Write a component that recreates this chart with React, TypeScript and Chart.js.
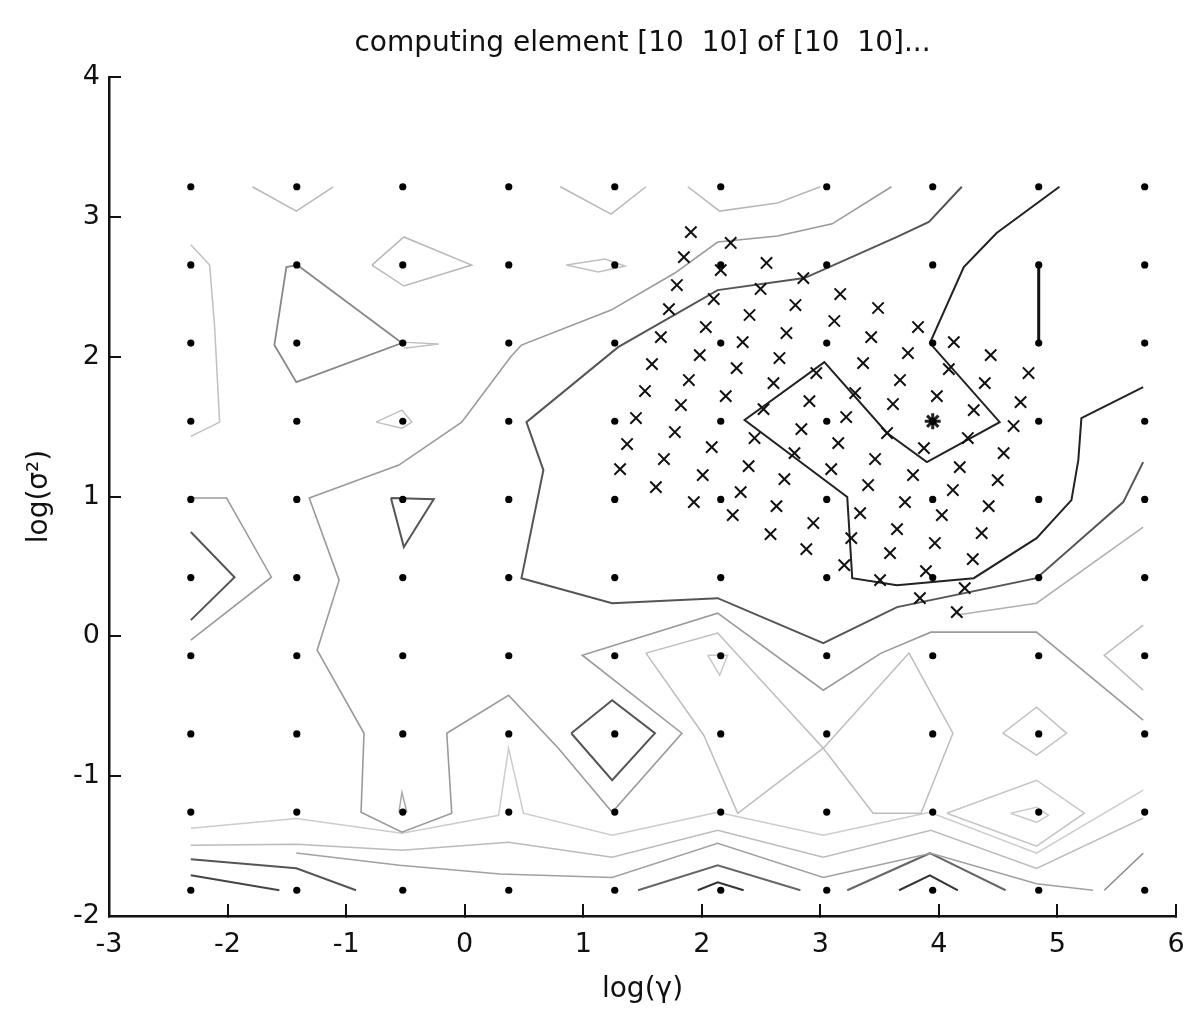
import React, { useEffect, useRef } from "react";
import { Chart, registerables } from "chart.js";

Chart.register(...registerables);

// ---- grid of the first tuning stage (log gamma x log sigma^2) ----
const gammaGrid = [-2.31, -1.416, -0.522, 0.372, 1.266, 2.16, 3.054, 3.948, 4.842, 5.736];
const sigmaGrid = [-1.816, -1.257, -0.698, -0.139, 0.42, 0.979, 1.538, 2.097, 2.656, 3.215];

// ---- points of the refined stage (x markers) ----
const refineGamma = [1.908, 2.244, 1.849, 2.546, 2.16, 1.79, 2.857, 2.496, 3.168, 1.723, 2.101, 2.79, 3.487, 2.403, 2.034, 3.118, 3.824, 1.655, 2.345, 2.714, 3.429, 4.126, 3.739, 4.437, 1.983, 2.655, 1.58, 2.294, 3.361, 2.966, 4.084, 4.756, 1.891, 2.605, 3.672, 4.387, 1.521, 2.202, 3.294, 3.983, 4.689, 1.824, 2.521, 2.908, 3.613, 4.294, 1.445, 3.218, 4.63, 1.773, 2.445, 2.84, 3.563, 4.244, 1.37, 2.084, 3.151, 3.874, 4.546, 1.681, 2.782, 1.311, 2.395, 3.092, 3.462, 4.176, 2.008, 2.697, 3.782, 4.496, 1.613, 3.403, 2.328, 4.118, 1.933, 2.63, 3.714, 4.42, 3.336, 2.261, 4.025, 2.941, 3.647, 2.58, 4.361, 3.261, 3.966, 2.882, 3.588, 4.286, 3.202, 3.891, 3.504, 4.218, 3.84, 4.151];
const refineSigma = [2.891, 2.813, 2.712, 2.67, 2.619, 2.512, 2.562, 2.484, 2.448, 2.34, 2.412, 2.369, 2.348, 2.298, 2.212, 2.255, 2.212, 2.14, 2.104, 2.169, 2.14, 2.104, 2.026, 2.011, 2.011, 1.99, 1.947, 1.918, 1.954, 1.883, 1.911, 1.883, 1.833, 1.811, 1.833, 1.811, 1.754, 1.718, 1.74, 1.718, 1.675, 1.654, 1.625, 1.682, 1.661, 1.618, 1.561, 1.568, 1.504, 1.461, 1.418, 1.482, 1.454, 1.418, 1.375, 1.353, 1.382, 1.346, 1.31, 1.268, 1.31, 1.196, 1.217, 1.196, 1.268, 1.21, 1.153, 1.124, 1.153, 1.117, 1.067, 1.082, 1.031, 1.046, 0.96, 0.931, 0.96, 0.931, 0.881, 0.867, 0.867, 0.81, 0.767, 0.731, 0.738, 0.702, 0.667, 0.624, 0.595, 0.552, 0.509, 0.466, 0.402, 0.345, 0.273, 0.173];

const optimumGamma = [3.948];
const optimumSigma = [1.538];

// ---- contour lines (log gamma, log sigma^2) ----
const cLight1 = [[-1.79, 3.215], [-1.42, 3.041], [-1.109, 3.215]];
const cLight2 = [[0.807, 3.215], [1.235, 3.02], [1.529, 3.215]];
const cLight3 = [[-2.31, 2.8], [-2.151, 2.655], [-2.109, 2.212], [-2.067, 1.532], [-2.31, 1.43]];
const cLight4 = [[-0.782, 2.655], [-0.513, 2.856], [0.059, 2.655], [-0.513, 2.505], [-0.782, 2.655]];
const cLight5 = [[0.857, 2.655], [1.185, 2.698], [1.353, 2.648], [1.126, 2.605], [0.857, 2.655]];
const cLight6 = [[-0.748, 1.532], [-0.529, 1.618], [-0.445, 1.532], [-0.529, 1.489], [-0.748, 1.532]];
const cLight7 = [[-0.529, 2.104], [-0.218, 2.09], [-0.513, 2.06]];
const cLight8 = [[1.882, 3.215], [2.151, 3.041], [2.639, 3.099], [3.0, 3.215]];
const cLight9 = [[4.151, 0.152], [4.824, 0.237], [5.723, 0.781]];
const cLight10 = [[2.05, -0.135], [2.151, -0.278], [2.218, -0.135], [2.05, -0.135]];
const cLight11 = [[1.529, -0.12], [2.134, 0.023], [3.025, -0.8], [2.303, -1.265], [2.017, -0.707], [1.529, -0.12]];
const cLight12 = [[3.025, -0.8], [3.748, -0.12], [4.118, -0.693], [3.849, -1.265], [3.445, -1.265], [3.025, -0.8]];
const cLight13 = [[4.538, -0.693], [4.824, -0.507], [5.076, -0.693], [4.824, -0.85], [4.538, -0.693]];
const cLight14 = [[4.067, -1.265], [4.824, -1.029], [5.227, -1.265], [4.824, -1.5], [4.067, -1.265]];
const cLight15 = [[4.605, -1.265], [4.824, -1.222], [4.924, -1.28], [4.824, -1.33], [4.605, -1.265]];
const cLight16 = [[5.723, 0.08], [5.395, -0.135], [5.723, -0.385]];
const cLight17 = [[-0.555, -1.258], [-0.529, -1.115], [-0.487, -1.258]];

const cMid1 = [[-1.412, 2.655], [-0.529, 2.097], [-1.42, 1.818], [-1.605, 2.083], [-1.504, 2.641], [-1.412, 2.655]];
const cMid2 = [[-2.31, 0.989], [-2.008, 0.989], [-1.63, 0.423], [-2.31, -0.027]];
const cMid3 = [[3.6, 3.215], [3.1, 2.95], [2.639, 2.863], [2.134, 2.82], [1.773, 2.598], [1.235, 2.333], [0.479, 2.083], [0.387, 1.997], [-0.025, 1.532], [-0.555, 1.225], [-1.311, 0.989], [-1.059, 0.402], [-1.244, -0.099], [-0.849, -0.693], [-0.874, -1.258], [-0.529, -1.401], [-0.109, -1.265], [-0.151, -0.693], [0.37, -0.421], [0.79, -0.8], [1.244, -1.258], [1.832, -0.693], [0.992, -0.135], [2.134, 0.166], [3.025, -0.385], [3.513, -0.12], [3.933, 0.03], [4.824, 0.03], [5.723, -0.6]];

const cDark1 = [[-2.31, 0.746], [-1.941, 0.423], [-2.31, 0.116]];
const cDark2 = [[-0.622, 0.989], [-0.261, 0.981], [-0.513, 0.638], [-0.622, 0.989]];
const cDark3 = [[0.899, -0.693], [1.244, -0.457], [1.605, -0.693], [1.244, -1.029], [0.899, -0.693]];
const cDark4 = [[4.193, 3.215], [3.916, 2.963], [3.647, 2.856], [2.866, 2.562], [2.134, 2.476], [1.294, 2.068], [0.521, 1.532], [0.664, 1.189], [0.479, 0.416], [1.244, 0.237], [2.134, 0.273], [3.025, -0.049], [3.647, 0.209], [4.824, 0.416], [5.555, 0.96], [5.723, 1.246]];

const cBlack1 = [[5.017, 3.215], [4.487, 2.884], [4.21, 2.641], [3.924, 2.097], [4.513, 1.532], [3.899, 1.246], [3.563, 1.454], [3.034, 1.961], [2.361, 1.547], [3.227, 0.996], [3.269, 0.416], [3.647, 0.366], [4.294, 0.416], [4.824, 0.702], [5.118, 0.974], [5.176, 1.26], [5.202, 1.561], [5.723, 1.782]];
const cBlack2 = [[4.842, 2.656], [4.842, 2.097]];

const cBand1 = [[-2.31, -1.373], [-1.42, -1.302], [-0.529, -1.408], [0.286, -1.28], [0.37, -0.8], [0.496, -1.265], [1.244, -1.423], [2.134, -1.258], [3.025, -1.423], [3.924, -1.258], [4.824, -1.551], [5.723, -1.1]];
const cBand2 = [[-2.31, -1.494], [-1.42, -1.487], [-0.529, -1.53], [0.37, -1.473], [1.244, -1.58], [2.134, -1.387], [3.025, -1.58], [3.933, -1.387], [4.824, -1.66], [5.723, -1.3]];
const cBand3 = [[-1.42, -1.55], [-0.55, -1.637], [0.3, -1.7], [1.244, -1.724], [2.134, -1.48], [3.025, -1.724], [3.933, -1.551], [4.824, -1.77], [5.3, -1.816]];
const cBand4 = [[-2.31, -1.595], [-1.42, -1.659], [-0.916, -1.816]];
const cBand5 = [[-2.31, -1.709], [-1.563, -1.816]];
const cBand6 = [[1.462, -1.816], [2.134, -1.637], [2.832, -1.816]];
const cBand7 = [[1.966, -1.816], [2.134, -1.759], [2.353, -1.816]];
const cBand8 = [[3.227, -1.816], [3.924, -1.551], [4.563, -1.816]];
const cBand9 = [[3.664, -1.816], [3.924, -1.709], [4.16, -1.816]];
const cBand10 = [[5.395, -1.816], [5.723, -1.551]];

const contourSets = [
  { pts: cLight1, color: "#b8b8b8", w: 1.5 },
  { pts: cLight2, color: "#b8b8b8", w: 1.5 },
  { pts: cLight3, color: "#c0c0c0", w: 1.5 },
  { pts: cLight4, color: "#b8b8b8", w: 1.5 },
  { pts: cLight5, color: "#c0c0c0", w: 1.5 },
  { pts: cLight6, color: "#c0c0c0", w: 1.5 },
  { pts: cLight7, color: "#c0c0c0", w: 1.5 },
  { pts: cLight8, color: "#b8b8b8", w: 1.5 },
  { pts: cLight9, color: "#b0b0b0", w: 1.5 },
  { pts: cLight10, color: "#c8c8c8", w: 1.5 },
  { pts: cLight11, color: "#bdbdbd", w: 1.5 },
  { pts: cLight12, color: "#bdbdbd", w: 1.5 },
  { pts: cLight13, color: "#c0c0c0", w: 1.5 },
  { pts: cLight14, color: "#c4c4c4", w: 1.5 },
  { pts: cLight15, color: "#cccccc", w: 1.5 },
  { pts: cLight16, color: "#bbbbbb", w: 1.5 },
  { pts: cLight17, color: "#aaaaaa", w: 1.5 },
  { pts: cMid1, color: "#888888", w: 1.8 },
  { pts: cMid2, color: "#999999", w: 1.5 },
  { pts: cMid3, color: "#9a9a9a", w: 1.6 },
  { pts: cDark1, color: "#555555", w: 2 },
  { pts: cDark2, color: "#555555", w: 2 },
  { pts: cDark3, color: "#555555", w: 2 },
  { pts: cDark4, color: "#555555", w: 2 },
  { pts: cBlack1, color: "#222222", w: 2 },
  { pts: cBlack2, color: "#111111", w: 3 },
  { pts: cBand1, color: "#cccccc", w: 1.5 },
  { pts: cBand2, color: "#bbbbbb", w: 1.5 },
  { pts: cBand3, color: "#a0a0a0", w: 1.5 },
  { pts: cBand4, color: "#555555", w: 2 },
  { pts: cBand5, color: "#444444", w: 2 },
  { pts: cBand6, color: "#666666", w: 2 },
  { pts: cBand7, color: "#333333", w: 2 },
  { pts: cBand8, color: "#666666", w: 2 },
  { pts: cBand9, color: "#333333", w: 2 },
  { pts: cBand10, color: "#888888", w: 1.5 },
];

const xTicks = [-3, -2, -1, 0, 1, 2, 3, 4, 5, 6];
const yTicks = [-2, -1, 0, 1, 2, 3, 4];

const FONT = "'DejaVu Sans', sans-serif";

export default function App() {
  const ref = useRef<HTMLCanvasElement | null>(null);
  useEffect(() => {
    if (!ref.current) return;
    const gridPts: { x: number; y: number }[] = [];
    sigmaGrid.forEach((s) => gammaGrid.forEach((g) => gridPts.push({ x: g, y: s })));
    const refinePts = refineGamma.map((g, i) => ({ x: g, y: refineSigma[i] }));
    const optPts = optimumGamma.map((g, i) => ({ x: g, y: optimumSigma[i] }));

    const datasets: any[] = [
      {
        label: "grid",
        data: gridPts,
        pointRadius: 3.6,
        pointBackgroundColor: "#000",
        pointBorderWidth: 0,
        showLine: false,
        order: 0,
      },
      {
        label: "refined",
        data: refinePts,
        pointStyle: "crossRot",
        pointRadius: 8,
        pointBorderColor: "#111",
        pointBorderWidth: 2,
        showLine: false,
        order: 0,
      },
      {
        label: "optimum",
        data: optPts,
        pointStyle: "star",
        pointRadius: 8,
        pointBorderColor: "#222",
        pointBorderWidth: 3,
        showLine: false,
        order: 0,
      },
      ...contourSets.map((c, i) => ({
        label: "contour" + i,
        data: c.pts.map(([x, y]) => ({ x, y })),
        showLine: true,
        borderColor: c.color,
        borderWidth: c.w,
        pointRadius: 0,
        fill: false,
        tension: 0,
        order: 1,
      })),
    ];

    const chart = new Chart(ref.current, {
      type: "scatter",
      data: { datasets },
      options: {
        animation: false,
        responsive: false,
        layout: { padding: { left: 0, right: 7, top: 0, bottom: 0 } },
        plugins: {
          legend: { display: false },
          tooltip: { enabled: false },
          title: {
            display: true,
            text: "computing element [10  10] of [10  10]...",
            fullSize: false,
            color: "#111",
            font: { family: FONT, size: 28, weight: "normal" },
            padding: { top: 27, bottom: 16.4 },
          },
        },
        scales: {
          x: {
            type: "linear",
            min: -3,
            max: 6,
            afterFit: (s: any) => { s.height = 93; },
            afterBuildTicks: (s: any) => { s.ticks = xTicks.map((v) => ({ value: v })); },
            ticks: {
              color: "#111",
              padding: 0,
              font: { family: FONT, size: 27, lineHeight: "82px" },
              autoSkip: false,
              maxRotation: 0,
            },
            grid: { drawOnChartArea: false, drawTicks: true, tickLength: -12, color: "#111", lineWidth: 2 },
            border: { display: true, color: "#111", width: 2.5 },
            title: {
              display: true,
              text: "log(γ)",
              color: "#111",
              font: { family: FONT, size: 28 },
              padding: { top: 0, bottom: 2 },
            },
          },
          y: {
            type: "linear",
            min: -2,
            max: 4,
            afterFit: (s: any) => { s.width = 109; },
            afterBuildTicks: (s: any) => { s.ticks = yTicks.map((v) => ({ value: v })); },
            ticks: {
              color: "#111",
              padding: 21,
              font: { family: FONT, size: 27 },
              autoSkip: false,
            },
            grid: { drawOnChartArea: false, drawTicks: true, tickLength: -12, color: "#111", lineWidth: 2 },
            border: { display: true, color: "#111", width: 2.5 },
            title: {
              display: true,
              text: "log(σ²)",
              color: "#111",
              font: { family: FONT, size: 28 },
              padding: { top: 23, bottom: 0 },
            },
          },
        },
      },
    });
    return () => chart.destroy();
  }, []);

  return (
    <div style={{ position: "absolute", left: 0, top: 0, width: 1187, height: 1009, background: "#fff" }}>
      <canvas ref={ref} width={1187} height={1009} style={{ width: 1187, height: 1009, display: "block" }} />
    </div>
  );
}
